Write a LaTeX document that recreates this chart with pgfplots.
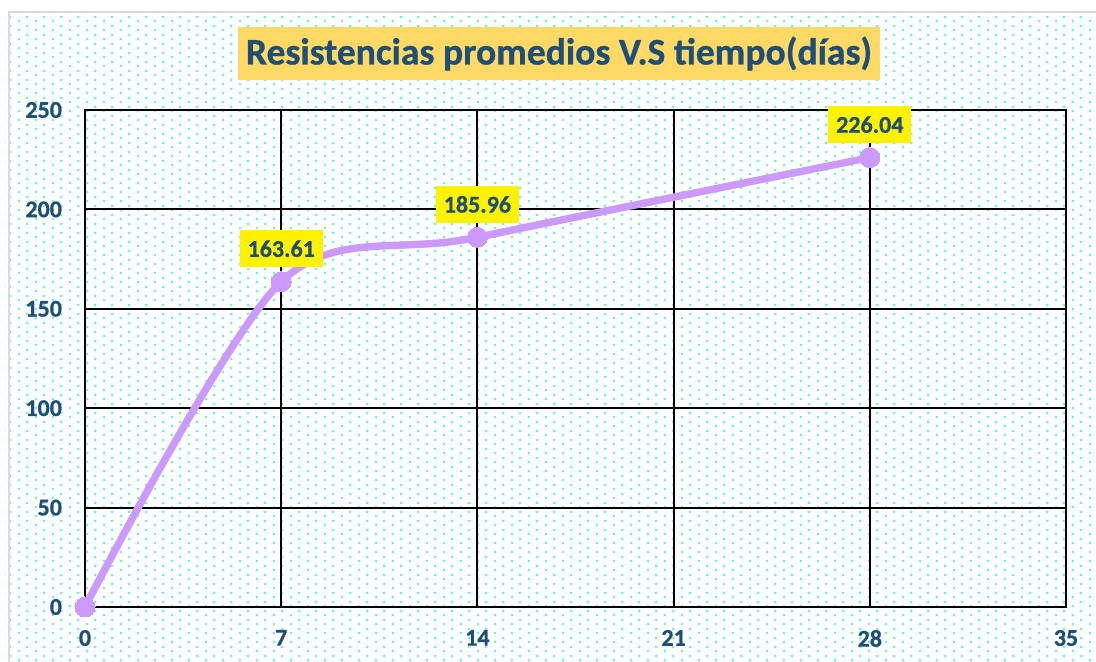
\documentclass[border=0pt]{standalone}
\usepackage{pgfplots}
\pgfplotsset{compat=1.18}
\usepackage{fontspec}
\setmainfont{Carlito}[BoldFeatures={FakeBold=0.8}]
\usetikzlibrary{patterns}
\definecolor{lineP}{RGB}{204,153,255}
\definecolor{txtB}{RGB}{31,78,121}
\definecolor{titleBG}{RGB}{255,217,102}
\definecolor{dotC}{RGB}{110,250,190}
\definecolor{frameG}{RGB}{217,217,217}
\pgfdeclarepatternformonly{mydots}{\pgfqpoint{0pt}{0pt}}{\pgfqpoint{8.35pt}{4.3pt}}{\pgfqpoint{8.35pt}{4.3pt}}{%
 \pgfpathrectangle{\pgfqpoint{0.4pt}{0.4pt}}{\pgfqpoint{1.2pt}{1.2pt}}%
 \pgfpathrectangle{\pgfqpoint{4.575pt}{2.55pt}}{\pgfqpoint{1.2pt}{1.2pt}}%
 \pgfusepath{fill}}
\begin{document}
\begin{tikzpicture}
\path[use as bounding box] (-42.5pt,-27.5pt) rectangle (505.5pt,303.5pt);
\fill[white] (-38pt,-27.5pt) rectangle (505.5pt,297.5pt);
\fill[pattern=mydots, pattern color=dotC] (-38pt,-27.5pt) rectangle (505.5pt,297.5pt);
\draw[frameG, line width=1pt] (-38pt,-27.5pt) -- (-38pt,297.5pt) -- (505.5pt,297.5pt);
\begin{axis}[
  at={(0pt,0pt)}, anchor=south west,
  scale only axis, width=490.5pt, height=248.5pt,
  xmin=0, xmax=35, ymin=0, ymax=250,
  xtick={0,7,...,35}, ytick={0,50,...,250},
  grid=major, major grid style={black, line width=1pt},
  axis line style={black, line width=1pt},
  major tick length=0pt,
  /pgf/number format/assume math mode=true,
  tick label style={font=\bfseries\fontsize{12}{14}\selectfont, text=txtB},
  xticklabel style={yshift=-8pt},
  yticklabel style={xshift=-8pt},
  clip=false,
]
\addplot[lineP, line width=3.7pt, smooth, mark=*, mark size=5pt, mark options={fill=lineP, draw=lineP, line width=0pt}]
  coordinates {(0,0) (7,163.61) (14,185.96) (28,226.04)};
\addplot[draw=none, mark=none, nodes near coords, point meta=explicit symbolic,
  every node near coord/.style={fill=yellow, text=txtB, font=\bfseries\fontsize{12}{14}\selectfont, anchor=center, yshift=16.5pt, minimum width=41.5pt, inner xsep=0pt, inner ysep=0pt, minimum height=18.5pt}]
  coordinates {(7,163.61) [163.61] (14,185.96) [185.96] (28,226.04) [226.04]};
\end{axis}
\node[fill=titleBG, text=txtB, font=\bfseries\fontsize{18.8}{21}\selectfont, minimum width=321pt, minimum height=26.5pt, inner sep=0pt] at (237pt,276.75pt) {Resistencias promedios V.S tiempo(días)};
\end{tikzpicture}
\end{document}
